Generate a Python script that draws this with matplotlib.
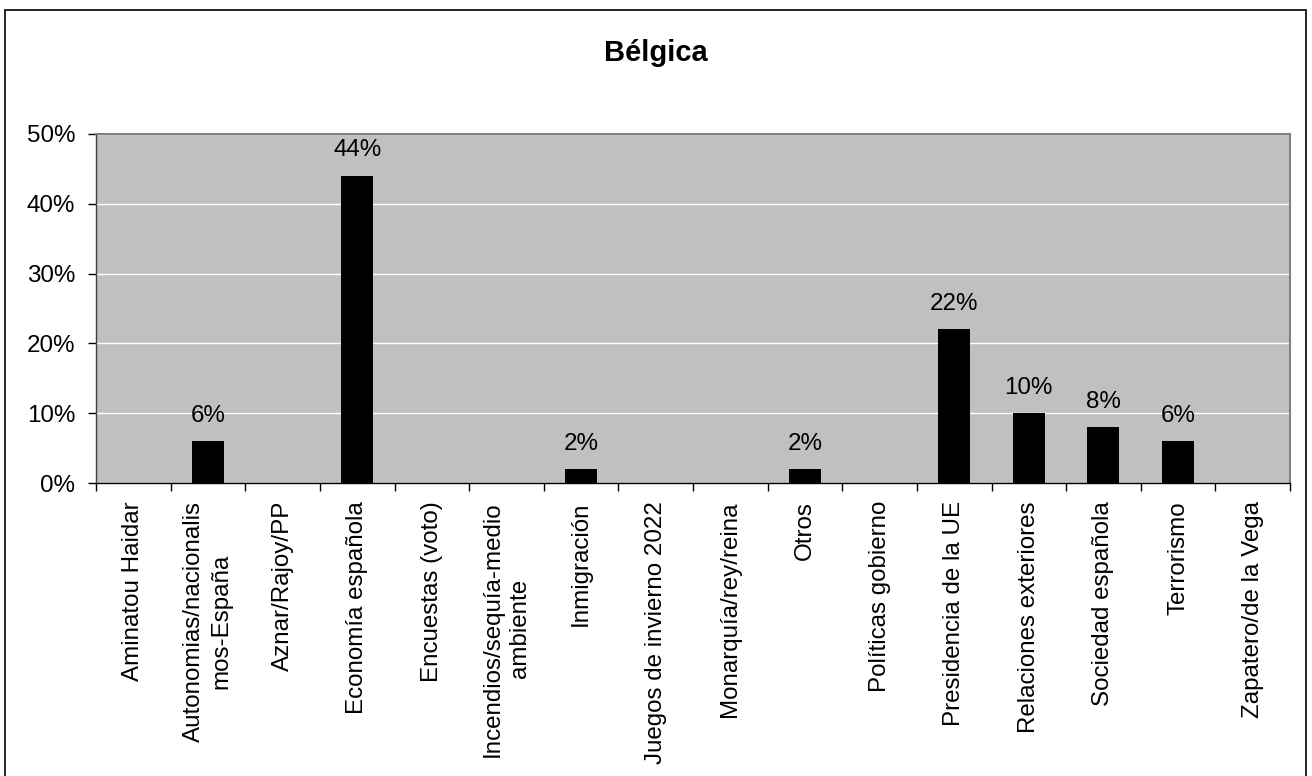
import matplotlib
matplotlib.use("Agg")
import matplotlib.pyplot as plt
import matplotlib.patches as mpatches
import numpy as np

plt.rcParams['font.family'] = ['Liberation Sans', 'DejaVu Sans']

title = "Bélgica"
categories = [
    "Aminatou Haidar",
    "Autonomias/nacionalis\nmos-España",
    "Aznar/Rajoy/PP",
    "Economía española",
    "Encuestas (voto)",
    "Incendios/sequía-medio\nambiente",
    "Inmigración",
    "Juegos de invierno 2022",
    "Monarquía/rey/reina",
    "Otros",
    "Políticas gobierno",
    "Presidencia de la UE",
    "Relaciones exteriores",
    "Sociedad española",
    "Terrorismo",
    "Zapatero/de la Vega",
]
values = [0, 6, 0, 44, 0, 0, 2, 0, 0, 2, 0, 22, 10, 8, 6, 0]
y_ticks = [0, 10, 20, 30, 40, 50]
y_tick_labels = ["0%", "10%", "20%", "30%", "40%", "50%"]

W, H = 1312, 776
fig = plt.figure(figsize=(W / 100, H / 100), dpi=100)
fig.patch.set_facecolor("white")

# outer chart border
fig.patches.append(mpatches.Rectangle((5 / W, -0.02), 1301 / W, (H - 10) / H + 0.02,
                                      transform=fig.transFigure, fill=False,
                                      edgecolor="black", linewidth=1.2))

ax = fig.add_axes([96 / W, 1 - 483 / H, (1290 - 96) / W, (483 - 134) / H])
ax.set_facecolor("#C0C0C0")

x = np.arange(len(categories))
bars = ax.bar(x, values, width=0.43, color="black", linewidth=0, zorder=3)

ax.set_xlim(-0.5, len(categories) - 0.5)
ax.set_ylim(0, 50)
ax.set_yticks(y_ticks)
ax.set_yticklabels(y_tick_labels, fontsize=17.4)
ax.yaxis.grid(True, color="white", linewidth=1, zorder=1)
ax.set_axisbelow(True)

ax.set_xticks(x)
ax.set_xticklabels(categories, rotation=90, fontsize=17.4, va="top", ha="center",
                   multialignment="center", linespacing=1.3)
ax.set_xticks(np.arange(-0.5, len(categories), 1), minor=True)
ax.tick_params(axis="x", which="major", length=0, pad=13)
ax.tick_params(axis="x", which="minor", length=6, width=1, color="black", direction="out")
ax.tick_params(axis="y", which="major", length=6, width=1, color="black", direction="out", pad=9)

for s in ["top", "right"]:
    ax.spines[s].set_color("#808080")
    ax.spines[s].set_linewidth(1.5)
ax.spines["left"].set_color("#404040")
ax.spines["bottom"].set_color("black")
ax.spines["left"].set_linewidth(1)
ax.spines["bottom"].set_linewidth(1)

for xi, v in zip(x, values):
    if v > 0:
        ax.annotate(f"{v}%", (xi, v), xytext=(0, 14), textcoords="offset points",
                    ha="center", va="baseline", fontsize=17.4, zorder=4)

fig.text(0.5, 1 - 53 / H, title, ha="center", va="center", fontsize=21, fontweight="bold")

fig.savefig("out.png", dpi=100, facecolor="white")
